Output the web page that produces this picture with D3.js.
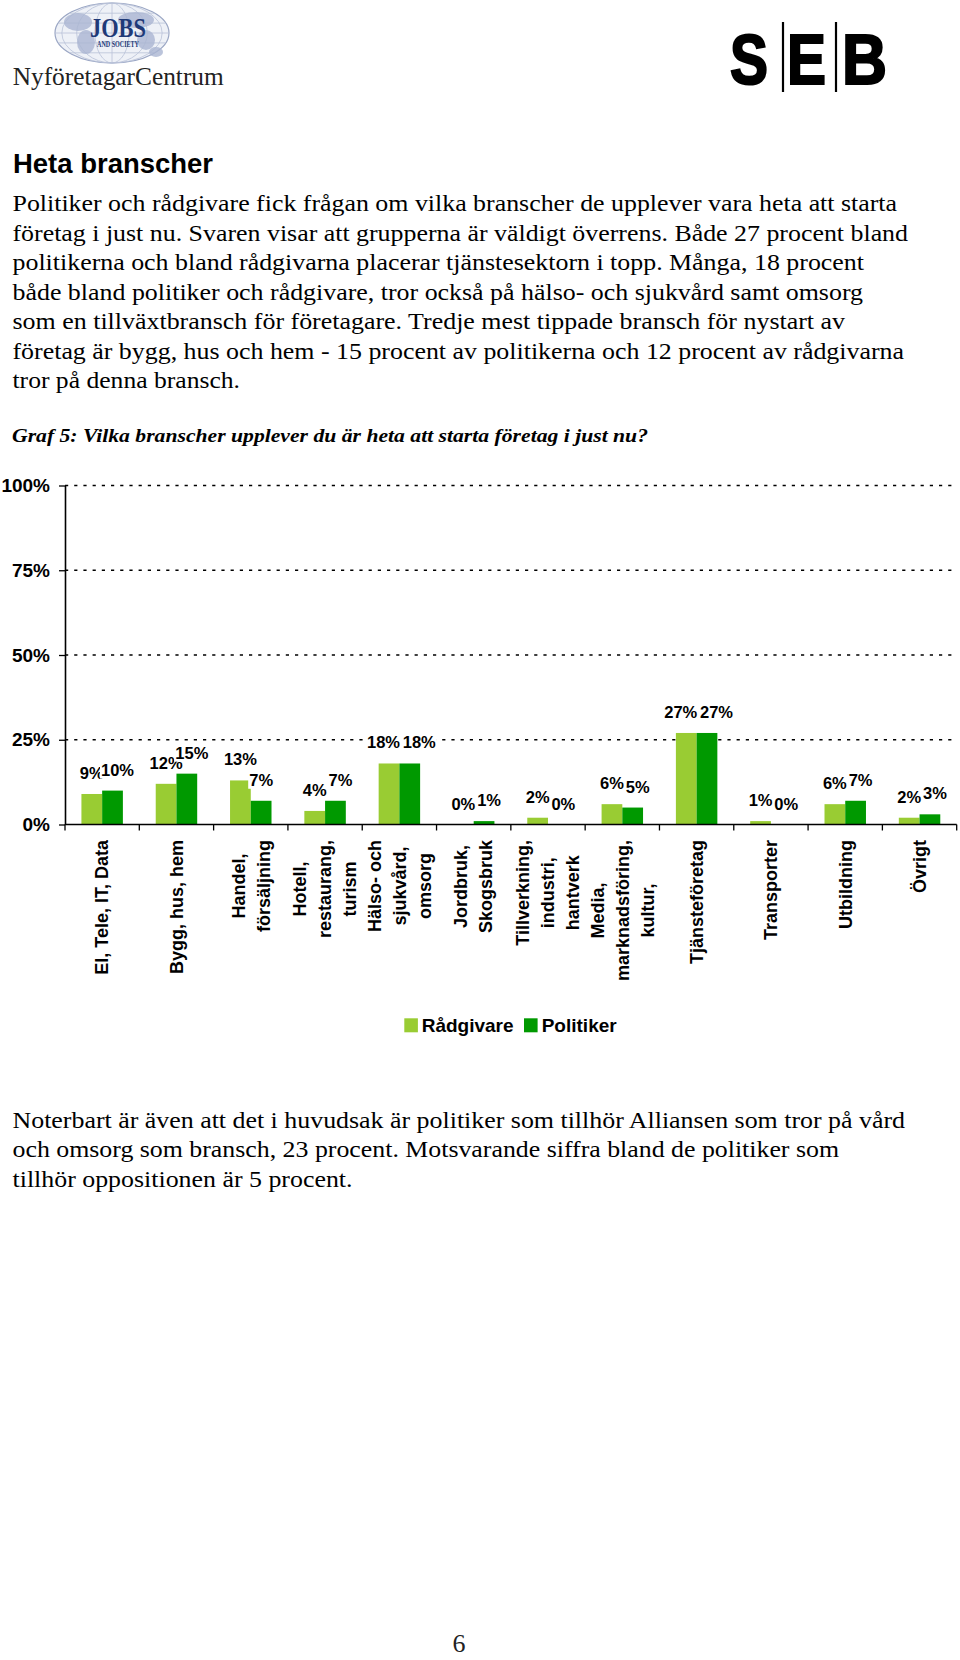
<!DOCTYPE html>
<html><head><meta charset="utf-8">
<script src="https://cdn.jsdelivr.net/npm/d3@7"></script>
<style>
html,body{margin:0;padding:0;background:#fff;}
svg{display:block;}
</style></head><body>
<svg id="c" width="960" height="1660"></svg>
<script>
// ---------- DATA ----------
const categories = [
  "El, Tele, IT, Data",
  "Bygg, hus, hem",
  "Handel,\nförsäljning",
  "Hotell,\nrestaurang,\nturism",
  "Hälso- och\nsjukvård,\nomsorg",
  "Jordbruk,\nSkogsbruk",
  "Tillverkning,\nindustri,\nhantverk",
  "Media,\nmarknadsföring,\nkultur,",
  "Tjänsteföretag",
  "Transporter",
  "Utbildning",
  "Övrigt"
];
const seriesNames = ["Rådgivare", "Politiker"];
const radgivare = [9, 12, 13, 4, 18, 0, 2, 6, 27, 1, 6, 2];
const politiker = [10, 15, 7, 7, 18, 1, 0, 5, 27, 0, 7, 3];
const yTickValues = [0, 25, 50, 75, 100];

const heading = "Heta branscher";
const introLines = [
  "Politiker och rådgivare fick frågan om vilka branscher de upplever vara heta att starta",
  "företag i just nu. Svaren visar att grupperna är väldigt överrens. Både 27 procent bland",
  "politikerna och bland rådgivarna placerar tjänstesektorn i topp. Många, 18 procent",
  "både bland politiker och rådgivare, tror också på hälso- och sjukvård samt omsorg",
  "som en tillväxtbransch för företagare. Tredje mest tippade bransch för nystart av",
  "företag är bygg, hus och hem - 15 procent av politikerna och 12 procent av rådgivarna",
  "tror på denna bransch."
];
const caption = "Graf 5: Vilka branscher upplever du är heta att starta företag i just nu?";
const outroLines = [
  "Noterbart är även att det i huvudsak är politiker som tillhör Alliansen som tror på vård",
  "och omsorg som bransch, 23 procent. Motsvarande siffra bland de politiker som",
  "tillhör oppositionen är 5 procent."
];
const pageNumber = "6";

// ---------- LAYOUT ----------
const SANS = "'Liberation Sans', Arial, sans-serif";
const SERIF = "'Liberation Serif', 'Times New Roman', serif";
const svg = d3.select("#c");
const colors = {"Rådgivare": "#99cc33", "Politiker": "#009900"};

// ---- Logos ----
const logo = svg.append("g");
logo.append("ellipse").attr("cx",112).attr("cy",33).attr("rx",57).attr("ry",30)
  .attr("fill","#eef1f7").attr("stroke","#9aa6c4").attr("stroke-width",1.2);
[0.3,0.62,0.88].forEach(k=>{
  logo.append("ellipse").attr("cx",112).attr("cy",33).attr("rx",57*k).attr("ry",30)
    .attr("fill","none").attr("stroke","#b9c1d8").attr("stroke-width",0.8);
});
logo.append("line").attr("x1",112).attr("x2",112).attr("y1",3).attr("y2",63).attr("stroke","#b9c1d8").attr("stroke-width",0.8);
[-0.66,-0.33,0,0.33,0.66].forEach(k=>{
  const yy = 33 + 30*k, half = 57*Math.sqrt(1-k*k);
  logo.append("line").attr("x1",112-half).attr("x2",112+half).attr("y1",yy).attr("y2",yy)
    .attr("stroke","#b9c1d8").attr("stroke-width",0.8);
});
[[78,22,14,9],[86,42,9,12],[136,20,18,8],[146,40,9,10],[156,52,7,5]].forEach(b=>{
  logo.append("ellipse").attr("cx",b[0]).attr("cy",b[1]).attr("rx",b[2]).attr("ry",b[3])
    .attr("fill","#aab5d2").attr("opacity",0.8);
});
logo.append("text").attr("x",90).attr("y",37).attr("font-family",SERIF).attr("font-weight","bold")
  .attr("font-size",28).attr("fill","#1f3a78").attr("textLength",56).attr("lengthAdjust","spacingAndGlyphs").text("JOBS");
logo.append("text").attr("x",97).attr("y",47).attr("font-family",SERIF).attr("font-weight","bold")
  .attr("font-size",8).attr("fill","#1f3a78").attr("textLength",42).attr("lengthAdjust","spacingAndGlyphs").text("AND SOCIETY");
logo.append("text").attr("x",12.7).attr("y",84.5).attr("font-family",SERIF).attr("font-size",26)
  .attr("fill","#222").attr("textLength",211).attr("lengthAdjust","spacingAndGlyphs").text("NyföretagarCentrum");

const seb = svg.append("g");
[["S",730,38],["E",787,39],["B",842,45]].forEach(d=>{
  seb.append("text").attr("x",d[1]).attr("y",84).attr("font-family",SANS).attr("font-weight","bold")
    .attr("font-size",70).attr("fill","#000").attr("stroke","#000").attr("stroke-width",2.2)
    .attr("textLength",d[2]).attr("lengthAdjust","spacingAndGlyphs").text(d[0]);
});
[783,836].forEach(xx=>{
  seb.append("line").attr("x1",xx).attr("x2",xx).attr("y1",22).attr("y2",92).attr("stroke","#000").attr("stroke-width",2.2);
});

// ---- Text blocks ----
svg.append("text").attr("x",13).attr("y",173.3).attr("font-family",SANS).attr("font-weight","bold")
  .attr("font-size",27).attr("fill","#000").attr("textLength",200).attr("lengthAdjust","spacingAndGlyphs").text(heading);

const introWidths = [884.5, 895.5, 851.5, 850.5, 832.5, 891.5, 227.5];
svg.append("g").selectAll("text").data(introLines).join("text")
  .attr("x",12.5).attr("y",(d,i)=>211 + 29.5*i)
  .attr("font-family",SERIF).attr("font-size",24).attr("fill","#000")
  .attr("textLength",(d,i)=>introWidths[i]).attr("lengthAdjust","spacingAndGlyphs")
  .text(d=>d);

svg.append("text").attr("x",12).attr("y",441.7).attr("font-family",SERIF).attr("font-weight","bold")
  .attr("font-style","italic").attr("font-size",19).attr("fill","#000")
  .attr("textLength",636).attr("lengthAdjust","spacingAndGlyphs").text(caption);

const outroWidths = [892.5, 826.5, 340];
svg.append("g").selectAll("text").data(outroLines).join("text")
  .attr("x",12.5).attr("y",(d,i)=>1127.5 + 29.6*i)
  .attr("font-family",SERIF).attr("font-size",24).attr("fill","#000")
  .attr("textLength",(d,i)=>outroWidths[i]).attr("lengthAdjust","spacingAndGlyphs")
  .text(d=>d);

svg.append("text").attr("x",459).attr("y",1652).attr("text-anchor","middle").attr("font-family",SERIF)
  .attr("font-size",26).attr("fill","#222").text(pageNumber);

// ---- Chart ----
const x0 = d3.scaleBand().domain(categories).range([65, 956.7]).padding(0);
const bw = x0.bandwidth();
const x1 = d3.scaleBand().domain(seriesNames).range([bw*0.221, bw*0.779]).padding(0);
const y = d3.scaleLinear().domain([0, 100]).range([824.5, 485.5]);

const chart = svg.append("g");

// gridlines
chart.append("g").selectAll("line").data(yTickValues.filter(v=>v>0)).join("line")
  .attr("x1",65).attr("x2",951.7).attr("y1",d=>y(d)).attr("y2",d=>y(d))
  .attr("stroke","#000").attr("stroke-width",1.3).attr("stroke-dasharray","3.2,6");

// bars
const rows = categories.map((c,i)=>({cat:c, vals:[{s:"Rådgivare", v:radgivare[i]},{s:"Politiker", v:politiker[i]}]}));
const groups = chart.append("g").selectAll("g").data(rows).join("g")
  .attr("transform",d=>`translate(${x0(d.cat)},0)`);
groups.selectAll("rect").data(d=>d.vals).join("rect")
  .attr("x",d=>x1(d.s)).attr("width",x1.bandwidth())
  .attr("y",d=>y(d.v)).attr("height",d=>y(0)-y(d.v))
  .attr("fill",d=>colors[d.s]);

// y axis
const yAxis = chart.append("g").attr("transform","translate(65,0)")
  .call(d3.axisLeft(y).tickValues(yTickValues).tickFormat(d=>d+"%").tickSize(6).tickSizeOuter(0).tickPadding(9));
yAxis.select(".domain").attr("stroke","#000").attr("stroke-width",1.6);
yAxis.selectAll(".tick line").attr("stroke","#000").attr("stroke-width",1.3);
yAxis.selectAll(".tick text").attr("font-family",SANS).attr("font-weight","bold").attr("font-size",19).attr("fill","#000");

// x axis (ticks at band boundaries)
const xa = chart.append("g");
xa.append("line").attr("x1",65).attr("x2",956.7).attr("y1",y(0)).attr("y2",y(0)).attr("stroke","#000").attr("stroke-width",1.6);
const bounds = categories.map(c=>x0(c)).concat([x0.range()[1]]);
xa.selectAll("line.t").data(bounds).join("line").attr("class","t")
  .attr("x1",d=>d).attr("x2",d=>d).attr("y1",y(0)).attr("y2",y(0)+6).attr("stroke","#000").attr("stroke-width",1.3);

// data labels
const labG = chart.append("g");
rows.forEach(r=>{
  const items = r.vals.map(d=>{
    const cx = x0(r.cat) + x1(d.s) + x1.bandwidth()/2;
    const by = y(d.v) - 15;
    const g = labG.append("g");
    const rect = g.append("rect").attr("fill","#fff");
    const t = g.append("text").attr("x",cx).attr("y",by).attr("text-anchor","middle")
      .attr("font-family",SANS).attr("font-weight","bold").attr("font-size",16.5).attr("fill","#000")
      .text(d.v + "%");
    const w = t.node().getComputedTextLength();
    return {d, cx, by, w, g, t, rect};
  });
  const [a,b] = items;
  const overlapX = (a.cx + a.w/2) - (b.cx - b.w/2);
  if (overlapX > 0 && Math.abs(a.by - b.by) < 12) {
    if (a.d.v === b.d.v) { a.cx -= 5.5; b.cx += 9.5; }
    else { b.cx += 5; }
  }
  items.forEach(it=>{
    it.t.attr("x", it.cx);
    it.rect.attr("x", it.cx - it.w/2 - 1).attr("y", it.by - 13).attr("width", it.w + 2).attr("height", 16);
  });
});

// category labels
const catG = chart.append("g");
categories.forEach(c=>{
  const lines = c.split("\n");
  const n = lines.length;
  const cxc = x0(c) + bw/2;
  const texts = lines.map(l=>catG.append("text").attr("text-anchor","middle")
    .attr("font-family",SANS).attr("font-weight","bold").attr("font-size",18).attr("fill","#000").text(l));
  const maxLen = d3.max(texts, t=>t.node().getComputedTextLength());
  texts.forEach((t,k)=>{
    const lx = cxc + (k - (n-1)/2)*25 + 6.3;
    const ly = 840 + maxLen/2;
    t.attr("transform",`translate(${lx},${ly}) rotate(-90)`);
  });
});

// legend
const leg = svg.append("g");
const legItems = [{s:"Rådgivare", rx:404.3, tx:421.7},{s:"Politiker", rx:524, tx:541.7}];
legItems.forEach(li=>{
  leg.append("rect").attr("x",li.rx).attr("y",1018.3).attr("width",13.6).attr("height",14).attr("fill",colors[li.s]);
  leg.append("text").attr("x",li.tx).attr("y",1031.7).attr("font-family",SANS).attr("font-weight","bold")
    .attr("font-size",19).attr("fill","#000").text(li.s);
});
</script>
</body></html>
